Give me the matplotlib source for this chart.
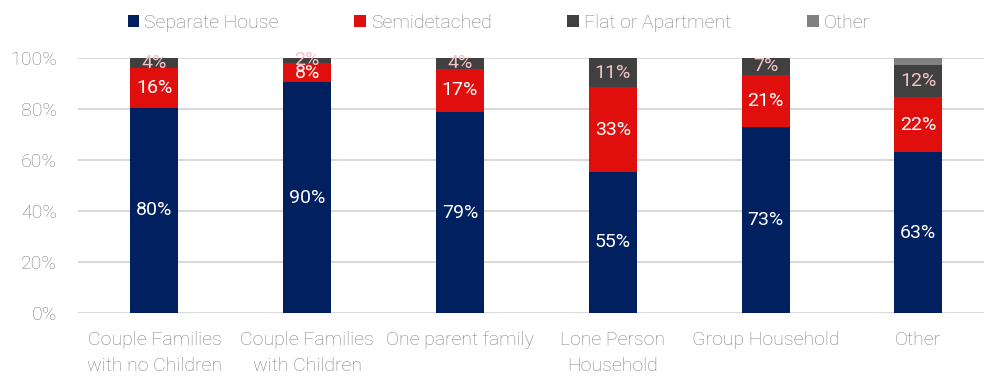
import matplotlib
matplotlib.use('Agg')
import matplotlib.pyplot as plt
import numpy as np

# household types and share of dwelling structure (%)
categories = ['Couple Families\nwith no Children', 'Couple Families\nwith Children',
              'One parent family', 'Lone Person\nHousehold', 'Group Household', 'Other']
separate_house = [80.4, 90.5, 78.8, 55.3, 72.8, 63.1]
semidetached = [15.7, 7.6, 17.0, 33.3, 20.6, 21.6]
flat_apartment = [3.9, 1.9, 4.2, 11.4, 6.6, 12.4]
other = [0.0, 0.0, 0.0, 0.0, 0.0, 2.9]

series = [
    ('Separate House', separate_house, '#002060', 'white'),
    ('Semidetached', semidetached, '#e10e0e', 'white'),
    ('Flat or Apartment', flat_apartment, '#404040', '#f4c2c6'),
    ('Other', other, '#808080', None),
]

plt.rcParams['font.family'] = ['Roboto', 'DejaVu Sans']

fig = plt.figure(figsize=(9.84, 3.78), dpi=100)
ax = fig.add_axes([78 / 984, 1 - 313 / 378, 1 - 78 / 984, (313 - 58) / 378])

x = np.arange(len(categories))
bottom = np.zeros(len(categories))
for name, vals, color, lab_color in series:
    vals = np.array(vals)
    ax.bar(x, vals, 0.314, bottom=bottom, color=color, label=name, zorder=3)
    if lab_color is not None:
        for xi, b, v in zip(x, bottom, vals):
            ax.text(xi, b + v / 2, f'{v:.0f}%', ha='center', va='center',
                    color=lab_color, fontsize=14, zorder=4)
    bottom += vals

ax.set_ylim(0, 100)
ax.set_xlim(-0.5, 5.43)
ax.set_yticks(range(0, 101, 20))
ax.set_yticklabels([f'{t}%' for t in range(0, 101, 20)])
ax.set_xticks(x)
ax.set_xticklabels(categories, linespacing=1.6)
ax.tick_params(axis='both', length=0, colors='#808080', labelsize=14)
ax.tick_params(axis='y', pad=15)
ax.tick_params(axis='x', pad=13)
for lab in ax.get_xticklabels() + ax.get_yticklabels():
    lab.set_fontweight('light')
ax.grid(axis='y', color='#d9d9d9', linewidth=1.5, zorder=0)
for s in ax.spines.values():
    s.set_visible(False)

leg = fig.legend(loc='upper left', bbox_to_anchor=(110 / 984, 1.01), ncol=4,
                 frameon=False, handlelength=0.6, handleheight=0.6,
                 handletextpad=0.25, columnspacing=3.9, fontsize=14)
for t in leg.get_texts():
    t.set_color('#808080')
    t.set_fontweight('light')

fig.savefig('out.png', dpi=100)
